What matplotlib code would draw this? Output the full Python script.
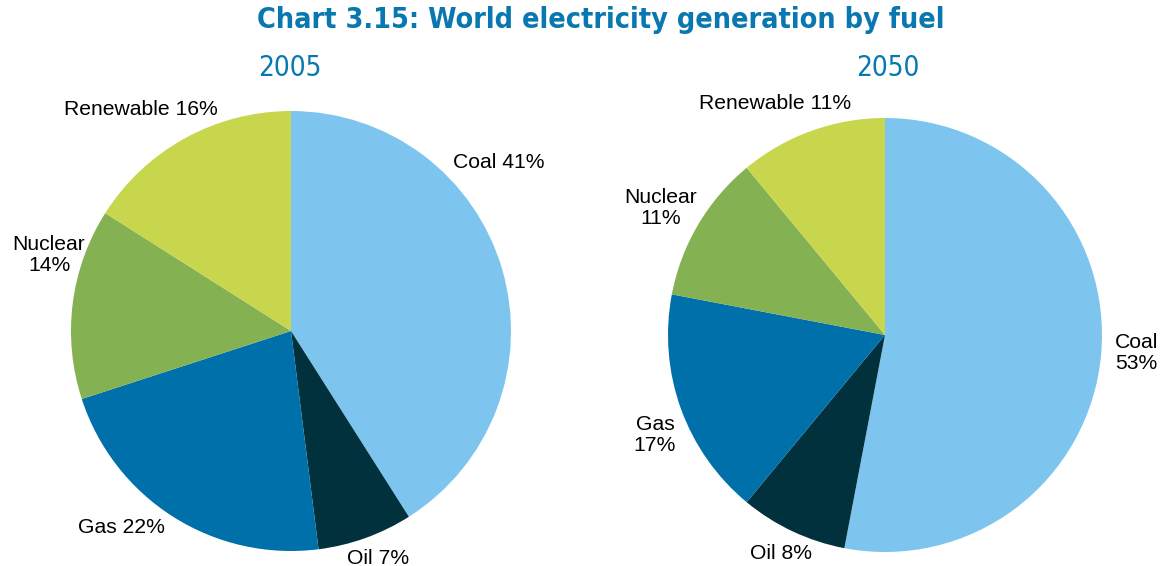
import matplotlib
matplotlib.use("Agg")
import matplotlib.pyplot as plt

fuels = ["Coal", "Oil", "Gas", "Nuclear", "Renewable"]
share_2005 = [41, 7, 22, 14, 16]
share_2050 = [53, 8, 17, 11, 11]
labels_2005 = ["Coal 41%", "Oil 7%", "Gas 22%", "Nuclear\n14%", "Renewable 16%"]
labels_2050 = ["Coal\n53%", "Oil 8%", "Gas\n17%", "Nuclear\n11%", "Renewable 11%"]
colors = ["#7DC5EF", "#00313D", "#0070AA", "#84B151", "#C8D64D"]

label_font = "Liberation Sans"
blue = "#0A78B0"

fig = plt.figure(figsize=(11.6, 5.66), dpi=100)
W, H = 1160, 566

def make_ax(cx, cy, r):
    ax = fig.add_axes([(cx - r) / W, (H - cy - r) / H, 2 * r / W, 2 * r / H])
    ax.set_xlim(-1, 1)
    ax.set_ylim(-1, 1)
    ax.set_aspect("equal")
    ax.axis("off")
    return ax

ax1 = make_ax(291, 331, 220)
ax2 = make_ax(885, 335, 217)

for ax, vals in ((ax1, share_2005), (ax2, share_2050)):
    ax.pie(vals, colors=colors, startangle=90, counterclock=False, radius=1,
           wedgeprops=dict(linewidth=0))
    ax.set_xlim(-1, 1)
    ax.set_ylim(-1, 1)

pos_2005 = [(0.736, 0.768, "left"), (0.255, -1.032, "left"), (-0.573, -0.891, "right"),
            (-1.10, 0.345, "center"), (-0.332, 1.005, "right")]
pos_2050 = [(1.157, -0.083, "center"), (-0.479, -1.005, "center"), (-1.06, -0.461, "center"),
            (-1.032, 0.585, "center"), (-0.507, 1.069, "center")]

for ax, labs, pos in ((ax1, labels_2005, pos_2005), (ax2, labels_2050, pos_2050)):
    for lab, (x, y, ha) in zip(labs, pos):
        ax.text(x, y, lab, ha=ha, va="center", multialignment="center",
                fontsize=15.2, family=label_font, color="black",
                linespacing=1.1, clip_on=False)

fig.text(601 / W, 1 - 20 / H, "Chart 3.15: World electricity generation by fuel",
         ha="center", va="center", fontsize=20.6, fontweight="bold",
         family="DejaVu Sans", fontstretch="condensed", color=blue)
fig.text(258 / W, 1 - 68 / H, "2005", ha="left", va="center", fontsize=20,
         family="DejaVu Sans", fontstretch="condensed", color=blue)
fig.text(920 / W, 1 - 68 / H, "2050", ha="right", va="center", fontsize=20,
         family="DejaVu Sans", fontstretch="condensed", color=blue)

fig.savefig("out.png", dpi=100, facecolor="white")
